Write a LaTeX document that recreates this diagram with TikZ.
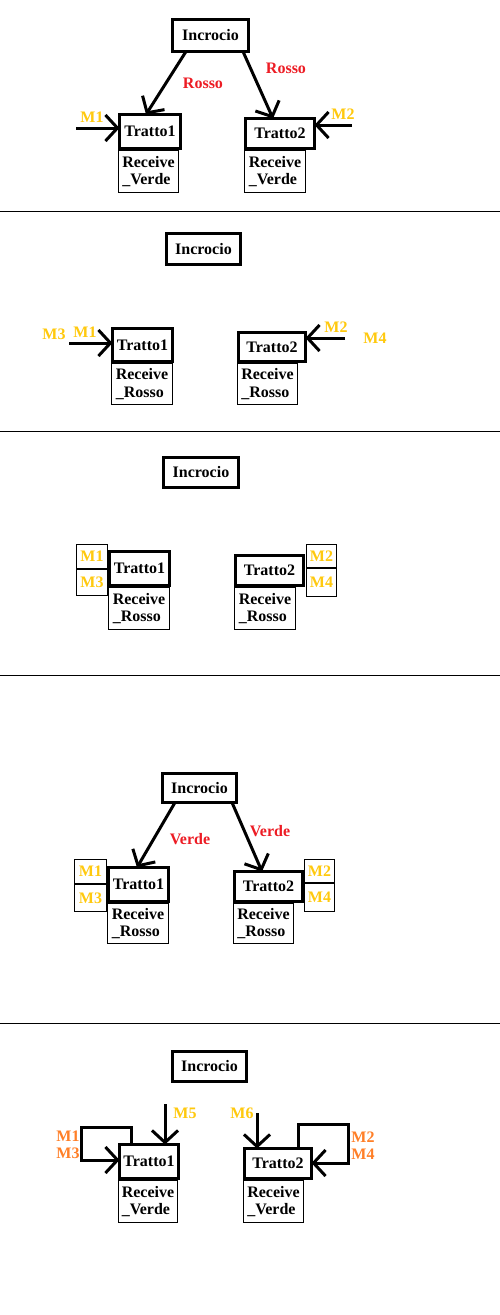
\documentclass[tikz,border=0pt]{standalone}
\usepackage{fontspec}
\setmainfont{Liberation Serif}
\usetikzlibrary{arrows.meta,calc}
\definecolor{mgold}{RGB}{255,201,14}
\definecolor{mred}{RGB}{237,28,36}
\definecolor{morange}{RGB}{255,127,39}
\begin{document}
\begin{tikzpicture}[x=1pt,y=-1pt,
  every node/.style={font=\fontsize{16}{17.5}\selectfont\bfseries, inner sep=0pt, outer sep=0pt},
  tbox/.style={draw, line width=3pt, rectangle},
  rbox/.style={draw, line width=1pt, rectangle, align=left},
  mcell/.style={draw, line width=1pt, rectangle, text=mgold},
  arr/.style={line width=3pt, -{Straight Barb[length=12pt,width=26pt]}},
  sep/.style={line width=1pt},
  goldlbl/.style={text=mgold},
  redlbl/.style={text=mred},
  orlbl/.style={text=morange}]
\useasboundingbox (0,0) rectangle (500,1315);
\fill[white] (0,0) rectangle (500,1315);

% separators
\coordinate (s1l) at (0,211); \coordinate (s1r) at (500,211);
\coordinate (s2l) at (0,431); \coordinate (s2r) at (500,431);
\coordinate (s3l) at (0,675); \coordinate (s3r) at (500,675);
\coordinate (s4l) at (0,1023); \coordinate (s4r) at (500,1023);
\draw[sep] (s1l) -- (s1r);
\draw[sep] (s2l) -- (s2r);
\draw[sep] (s3l) -- (s3r);
\draw[sep] (s4l) -- (s4r);

% ---------- Panel 1 ----------
\node[tbox, minimum width=76pt, minimum height=32pt] (inc1) at (210.5,35.5) {Incrocio};
\node[tbox, minimum width=61pt, minimum height=34pt] (t1a) at (150,131.5) {Tratto1};
\node[rbox, minimum width=60pt, minimum height=42pt] (r1a) at (148.5,171.5) {Receive\\\_Verde};
\node[tbox, minimum width=69pt, minimum height=30pt] (t2a) at (280,133.5) {Tratto2};
\node[rbox, minimum width=61pt, minimum height=42pt] (r2a) at (275,171.5) {Receive\\\_Verde};
\draw[arr] ($(inc1.south)+(-24.5,0)$) -- ($(t1a.north)+(-4,0)$);
\draw[arr] ($(inc1.south)+(32.5,0)$) -- ($(t2a.north)+(-7,0)$);
\coordinate (m1a) at (76,128);
\coordinate (m2a) at (352,125);
\draw[arr] (m1a) -- ($(t1a.west)+(0,-3.5)$);
\draw[arr] (m2a) -- ($(t2a.east)+(0,-8.5)$);
\node[redlbl] (ro1) at (203,83) {Rosso};
\node[redlbl] (ro2) at (286,68) {Rosso};
\node[goldlbl] (lm1a) at (92,117) {M1};
\node[goldlbl] (lm2a) at (343,114) {M2};

% ---------- Panel 2 ----------
\node[tbox, minimum width=74pt, minimum height=31pt] (inc2) at (203.5,249) {Incrocio};
\node[tbox, minimum width=60pt, minimum height=33pt] (t1b) at (142.5,345) {Tratto1};
\node[rbox, minimum width=61pt, minimum height=41pt] (r1b) at (142,384) {Receive\\\_Rosso};
\node[tbox, minimum width=67pt, minimum height=29pt] (t2b) at (272,347) {Tratto2};
\node[rbox, minimum width=60pt, minimum height=41pt] (r2b) at (267.5,384) {Receive\\\_Rosso};
\coordinate (m1b) at (69,343);
\coordinate (m2b) at (345,338);
\draw[arr] (m1b) -- ($(t1b.west)+(0,-2)$);
\draw[arr] (m2b) -- ($(t2b.east)+(0,-9)$);
\node[goldlbl] (lm3b) at (54,334) {M3};
\node[goldlbl] (lm1b) at (85,332) {M1};
\node[goldlbl] (lm2b) at (336,327) {M2};
\node[goldlbl] (lm4b) at (375,338) {M4};

% ---------- Panel 3 ----------
\node[tbox, minimum width=75pt, minimum height=30pt] (inc3) at (201,472.5) {Incrocio};
\node[tbox, minimum width=60pt, minimum height=34pt] (t1c) at (139.5,568.5) {Tratto1};
\node[rbox, minimum width=61pt, minimum height=42pt] (r1c) at (139,608.5) {Receive\\\_Rosso};
\node[mcell, minimum width=31pt, minimum height=24pt] (c1m1) at (92,556.5) {M1};
\node[mcell, minimum width=31pt, minimum height=26pt] (c1m3) at (92,582.5) {M3};
\node[tbox, minimum width=68pt, minimum height=30pt] (t2c) at (269.5,570.5) {Tratto2};
\node[rbox, minimum width=61pt, minimum height=42pt] (r2c) at (265,608.5) {Receive\\\_Rosso};
\node[mcell, minimum width=30pt, minimum height=23pt] (c2m2) at (321.5,556) {M2};
\node[mcell, minimum width=30pt, minimum height=28pt] (c2m4) at (321.5,582.5) {M4};

% ---------- Panel 4 ----------
\node[tbox, minimum width=74pt, minimum height=29pt] (inc4) at (199.5,788) {Incrocio};
\node[tbox, minimum width=60pt, minimum height=34pt] (t1d) at (138.5,884.5) {Tratto1};
\node[rbox, minimum width=61pt, minimum height=40pt] (r1d) at (138,923.5) {Receive\\\_Rosso};
\node[mcell, minimum width=32pt, minimum height=24pt] (d1m1) at (90.5,871.5) {M1};
\node[mcell, minimum width=32pt, minimum height=27pt] (d1m3) at (90.5,898) {M3};
\node[tbox, minimum width=68pt, minimum height=30pt] (t2d) at (268.5,886.5) {Tratto2};
\node[rbox, minimum width=60pt, minimum height=40pt] (r2d) at (263.5,923.5) {Receive\\\_Rosso};
\node[mcell, minimum width=30pt, minimum height=23pt] (d2m2) at (319.5,871) {M2};
\node[mcell, minimum width=30pt, minimum height=28pt] (d2m4) at (319.5,897.5) {M4};
\draw[arr] ($(inc4.south)+(-24.5,0)$) -- ($(t1d.north)+(-1.5,0)$);
\draw[arr] ($(inc4.south)+(32.5,0)$) -- ($(t2d.north)+(-6.5,0)$);
\node[redlbl] (ve1) at (190,839) {Verde};
\node[redlbl] (ve2) at (270,831) {Verde};

% ---------- Panel 5 ----------
\node[tbox, minimum width=74pt, minimum height=30pt] (inc5) at (209.5,1066.5) {Incrocio};
\node[tbox, minimum width=59pt, minimum height=34pt] (t1e) at (149,1161.5) {Tratto1};
\node[rbox, minimum width=59pt, minimum height=42pt] (r1e) at (148,1201.5) {Receive\\\_Verde};
\node[tbox, minimum width=67pt, minimum height=30pt] (t2e) at (278,1163.5) {Tratto2};
\node[rbox, minimum width=60pt, minimum height=42pt] (r2e) at (273.5,1201.5) {Receive\\\_Verde};
\coordinate (m5e) at (165,1104);
\coordinate (m6e) at (257,1113);
\draw[arr] (m5e) -- (m5e |- t1e.north);
\draw[arr] (m6e) -- (m6e |- t2e.north);
\coordinate (l1) at (81,1127);
\coordinate (l2) at (348,1124);
\draw[arr, line join=miter] ($(t1e.north)+(-18,0)$) |- (l1) |- ($(t1e.west)+(0,-1.5)$);
\draw[arr, line join=miter] ($(t2e.north)+(20,0)$) |- (l2) |- ($(t2e.east)+(0,-0.5)$);
\node[goldlbl] (lm5e) at (185,1113) {M5};
\node[goldlbl] (lm6e) at (242,1113) {M6};
\node[orlbl] (lm1e) at (68,1136) {M1};
\node[orlbl] (lm3e) at (68,1153) {M3};
\node[orlbl] (lm2e) at (363,1137) {M2};
\node[orlbl] (lm4e) at (363,1154) {M4};
\end{tikzpicture}
\end{document}
